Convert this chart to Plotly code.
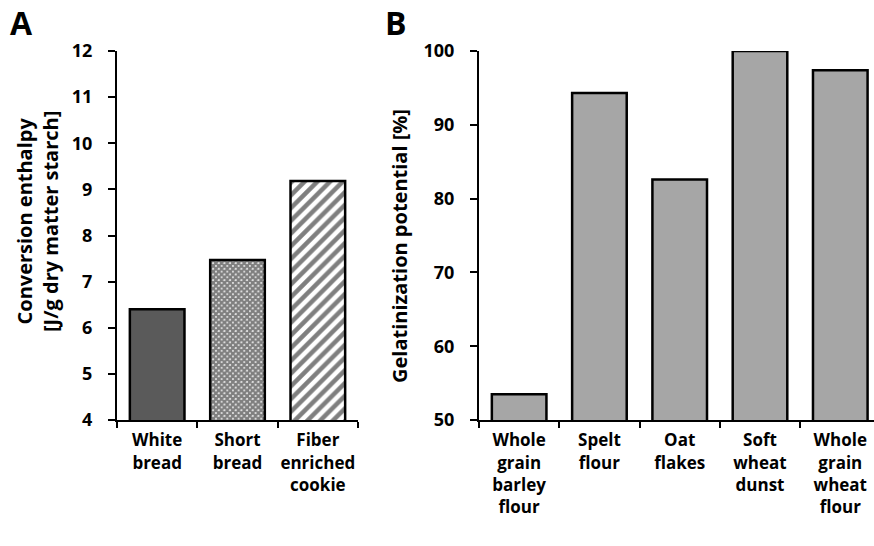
import plotly.graph_objects as go

W, H = 874, 546

# Panel A data
a_categories = ["White<br>bread", "Short<br>bread", "Fiber<br>enriched<br>cookie"]
a_values = [6.4, 7.47, 9.18]
a_ticks = [4, 5, 6, 7, 8, 9, 10, 11, 12]

# Panel B data
b_categories = ["Whole<br>grain<br>barley<br>flour", "Spelt<br>flour", "Oat<br>flakes",
                "Soft<br>wheat<br>dunst", "Whole<br>grain<br>wheat<br>flour"]
b_values = [53.5, 94.3, 82.6, 100.0, 97.4]
b_ticks = [50, 60, 70, 80, 90, 100]

FONT = "Open Sans"
fig = go.Figure()

a_styles = [
    dict(color="#5a5a5a"),
    dict(color="white", pattern=dict(shape="x", size=4, solidity=0.85, fgcolor="black",
                                     fillmode="overlay")),
    dict(color="white", pattern=dict(shape="/", size=9, solidity=0.5, fgcolor="black",
                                     fillmode="overlay")),
]
for cat, val, st in zip(a_categories, a_values, a_styles):
    fig.add_trace(go.Bar(
        x=[cat], y=[val], xaxis="x", yaxis="y", width=0.68,
        marker=dict(line=dict(color="black", width=2.5), **st),
        showlegend=False,
    ))

fig.add_trace(go.Bar(
    x=b_categories, y=b_values, xaxis="x2", yaxis="y2", width=0.68,
    marker=dict(color="#a6a6a6", line=dict(color="black", width=2.5)),
    showlegend=False,
))

def px(x):
    return x / W

def py(y):
    return 1 - y / H

ydom = [py(420), py(51)]

line_common = dict(showline=True, linecolor="black", linewidth=2, showgrid=False,
                   zeroline=False, ticks="outside", tickcolor="black", tickwidth=2,
                   automargin=False)
yfont = dict(family=FONT, size=18, color="black", weight="bold")
xfont = dict(family=FONT, size=17, color="black", weight="bold")

fig.update_layout(
    width=W, height=H, margin=dict(l=0, r=0, t=0, b=0, autoexpand=False),
    paper_bgcolor="white", plot_bgcolor="white",
    barmode="overlay",
    xaxis=dict(domain=[px(117), px(358)], anchor="y", type="category",
               categoryorder="array", categoryarray=a_categories, tickangle=0,
               tickson="boundaries", ticklen=6, ticklabelstandoff=4,
               tickfont=xfont, **line_common),
    yaxis=dict(domain=ydom, anchor="x", range=[4, 12], tickvals=a_ticks, ticklen=7,
               ticklabelstandoff=12, tickfont=yfont, **line_common),
    xaxis2=dict(domain=[px(479), 1.0], anchor="y2", type="category", tickangle=0,
                tickson="boundaries", ticklen=6, range=[-0.5, 4.42],
                ticklabelstandoff=4, tickfont=xfont, **line_common),
    yaxis2=dict(domain=ydom, anchor="x2", range=[50, 100], tickvals=b_ticks, ticklen=7,
                ticklabelstandoff=12, tickfont=yfont, **line_common),
)

title_font = dict(family=FONT, size=20, color="black", weight="bold")
fig.add_annotation(text="Conversion enthalpy<br>[J/g dry matter starch]",
                   x=px(37), y=py(222), xref="paper", yref="paper", textangle=-90,
                   showarrow=False, font=title_font, xanchor="center", yanchor="middle")
fig.add_annotation(text="Gelatinization potential [%]",
                   x=px(400), y=py(246), xref="paper", yref="paper", textangle=-90,
                   showarrow=False, font=title_font, xanchor="center", yanchor="middle")
letter_font = dict(family=FONT, size=32, color="black", weight="bold")
fig.add_annotation(text="A", x=px(21), y=py(23), xref="paper", yref="paper",
                   showarrow=False, font=letter_font, xanchor="center", yanchor="middle")
fig.add_annotation(text="B", x=px(396), y=py(23), xref="paper", yref="paper",
                   showarrow=False, font=letter_font, xanchor="center", yanchor="middle")

fig.write_html("out.html", config={"displayModeBar": False},
               post_script="document.body.style.margin='0';")
